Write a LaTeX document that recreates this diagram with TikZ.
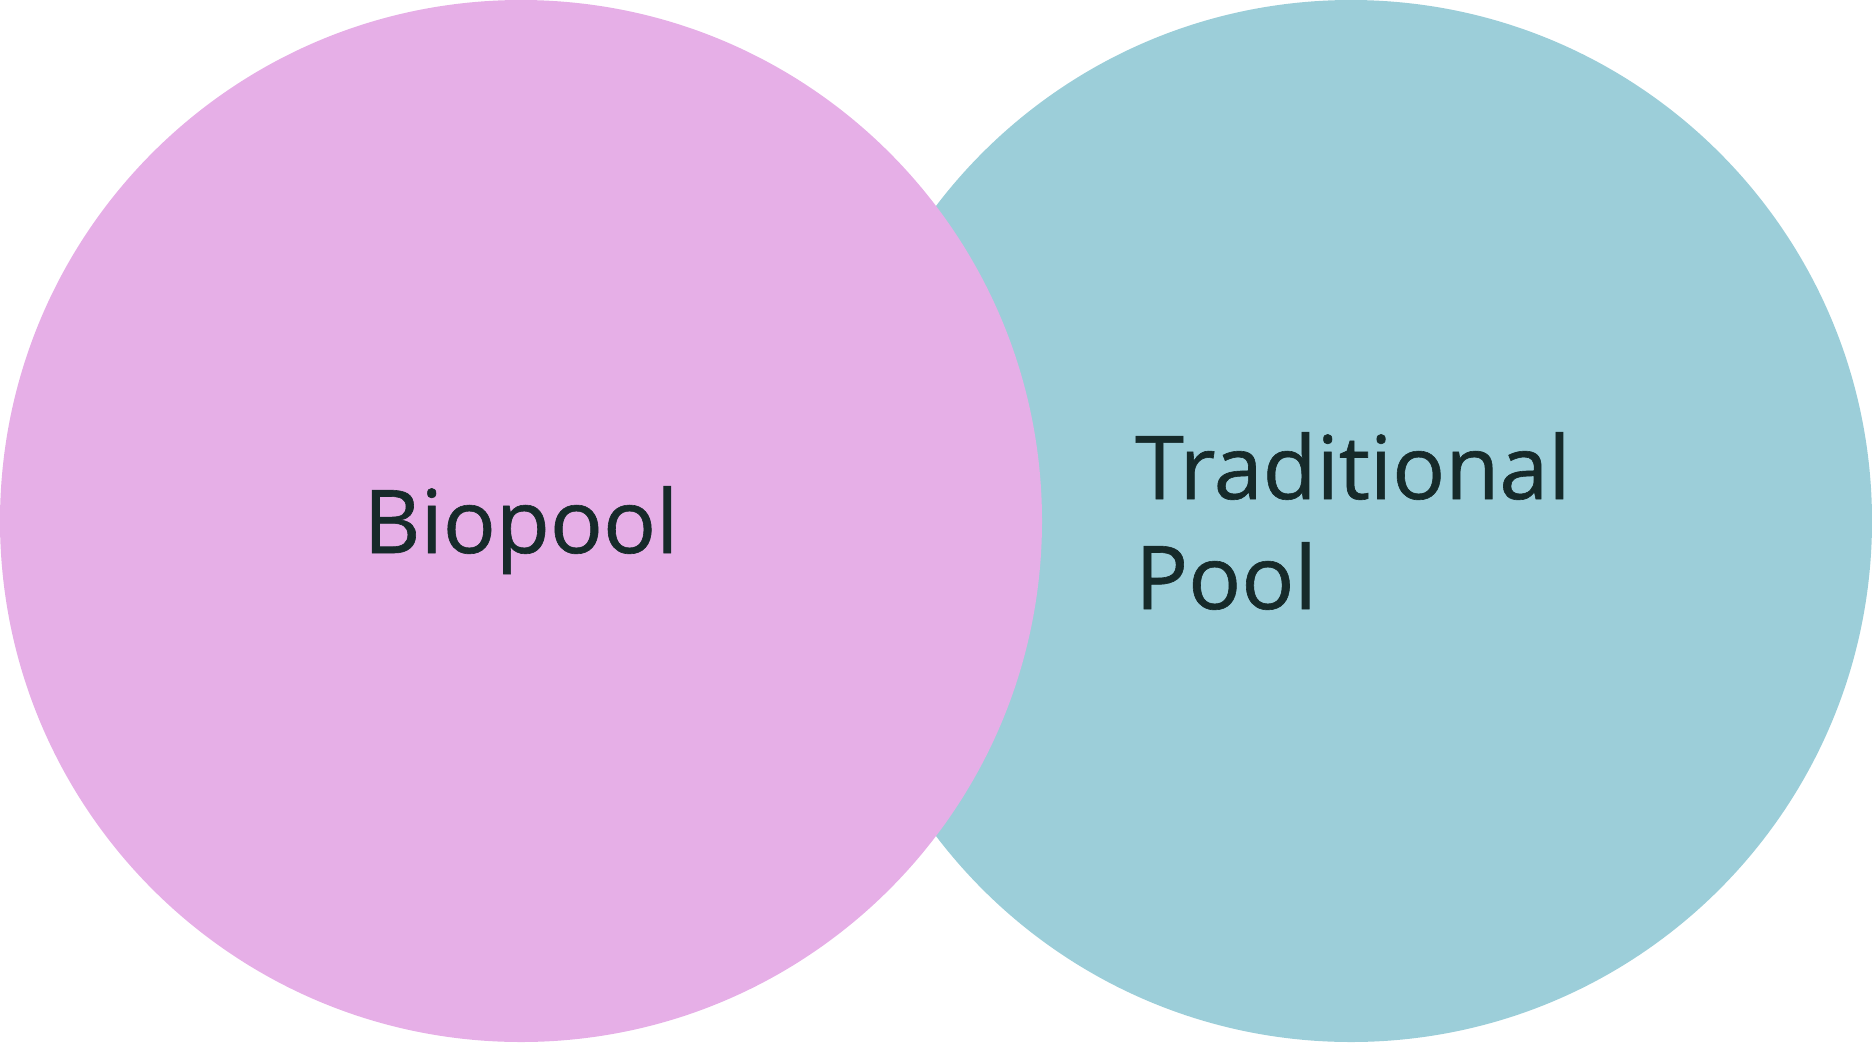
\documentclass[tikz,border=0pt]{standalone}
\usepackage{fontspec}
\setmainfont{Open Sans}[FakeBold=0.7]
\definecolor{pinkc}{HTML}{E6AFE7}
\definecolor{tealc}{HTML}{9CCED9}
\definecolor{txtc}{HTML}{162A2A}
\begin{document}
\begin{tikzpicture}[x=1pt,y=-1pt,
  lbl/.style={inner sep=0pt,text=txtc,font=\fontsize{88}{110}\selectfont}]
\useasboundingbox (0,0) rectangle (1872,1042);
\fill[tealc] (1351,521) circle[radius=521];
\fill[pinkc] (521,521) circle[radius=521];
\node[lbl,anchor=base] (bio) at (521,553) {Biopool};
\node[lbl,anchor=base west] (trad) at (1135,499) {Traditional};
\node[lbl,anchor=base west] (pool) at (1135,609) {Pool};
\end{tikzpicture}
\end{document}
